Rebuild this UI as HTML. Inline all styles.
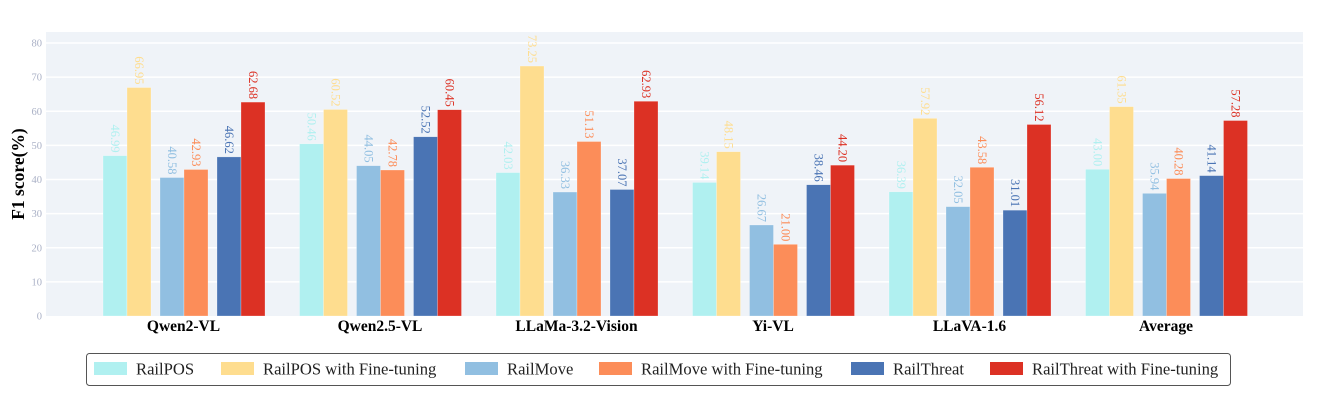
<!DOCTYPE html>
<html><head><meta charset="utf-8"><style>
html,body{margin:0;padding:0;background:#fff;}
svg{display:block;font-family:"Liberation Serif",serif;}
</style></head><body>
<svg id="chart" width="1324" height="400" viewBox="0 0 1324 400" xmlns="http://www.w3.org/2000/svg">
<rect x="46" y="32" width="1257" height="284" fill="#eff3f8"/>
<g id="grid"></g>
<g id="bars"></g>
<text transform="translate(24,174) rotate(-90)" text-anchor="middle" font-size="17.5" font-weight="bold" fill="#000">F1 score(%)</text>
<g id="legend">
<rect x="86.5" y="353.5" width="1144" height="32" rx="3" fill="#fff" stroke="#555" stroke-width="1"/>
</g>
</svg>
<script>
const categories = ["Qwen2-VL","Qwen2.5-VL","LLaMa-3.2-Vision","Yi-VL","LLaVA-1.6","Average"];
const seriesNames = ["RailPOS","RailPOS with Fine-tuning","RailMove","RailMove with Fine-tuning","RailThreat","RailThreat with Fine-tuning"];
const railPOS = [46.99,50.46,42.03,39.14,36.39,43.00];
const railPOSFT = [66.95,60.52,73.25,48.15,57.92,61.35];
const railMove = [40.58,44.05,36.33,26.67,32.05,35.94];
const railMoveFT = [42.93,42.78,51.13,21.00,43.58,40.28];
const railThreat = [46.62,52.52,37.07,38.46,31.01,41.14];
const railThreatFT = [62.68,60.45,62.93,44.20,56.12,57.28];
const yTicks = [0,10,20,30,40,50,60,70,80];

const series = [railPOS,railPOSFT,railMove,railMoveFT,railThreat,railThreatFT];
const colors = ["#b0f0f0","#fedd8f","#91bfe1","#fc8d59","#4a74b4","#dc3124"];
const NS = "http://www.w3.org/2000/svg";
const y = v => 316 - v*3.4125;
const xc = i => 183.5 + i*196.5;
const barX = (i,s) => xc(i) - 80.5 + Math.floor(s/2)*57 + (s%2)*24;
function mk(tag, attrs, parent){const e=document.createElementNS(NS,tag);for(const k in attrs)e.setAttribute(k,attrs[k]);parent.appendChild(e);return e;}
const grid=document.getElementById('grid');
yTicks.forEach(t=>{
  if(t>0){const l=mk('line',{x1:46,x2:1303,y1:y(t),y2:y(t),stroke:'#fff','stroke-width':1.5},grid);
  
  }
  const tx=mk('text',{x:42,y:y(t)+3.5,'text-anchor':'end','font-size':10.5,fill:'#aab1c6'},grid);
  
  
  tx.textContent=t;
});
const bars=document.getElementById('bars');
categories.forEach((c,i)=>{
  series.forEach((arr,s)=>{
    const v=arr[i], bx=barX(i,s);
    const r=mk('rect',{x:bx,y:y(v),width:24,height:316-y(v),fill:colors[s],stroke:'rgba(255,255,255,0.5)','stroke-width':0.5},bars);
    
    
    const lx=bx+12, ly=y(v)-3;
    const t=mk('text',{x:lx,y:ly,transform:`rotate(90,${lx},${ly})`,'text-anchor':'end','dominant-baseline':'central','font-size':12.5,fill:colors[s]},bars);
    
    
    t.textContent=v.toFixed(2);
  });
  const xl=mk('text',{x:xc(i),y:331,'text-anchor':'middle','font-size':15.5,'font-weight':'bold',fill:'#000'},bars);
  
  
  xl.textContent=c;
});
const legend=document.getElementById('legend');
const swX=[94,221,465,599,851,990];
seriesNames.forEach((n,s)=>{
  const r=mk('rect',{x:swX[s],y:362,width:33,height:13,fill:colors[s]},legend);
  
  
  const t=mk('text',{x:swX[s]+42,y:374.5,'font-size':16.6,fill:'#222'},legend);
  
  
  t.textContent=n;
});
</script>
</body></html>
